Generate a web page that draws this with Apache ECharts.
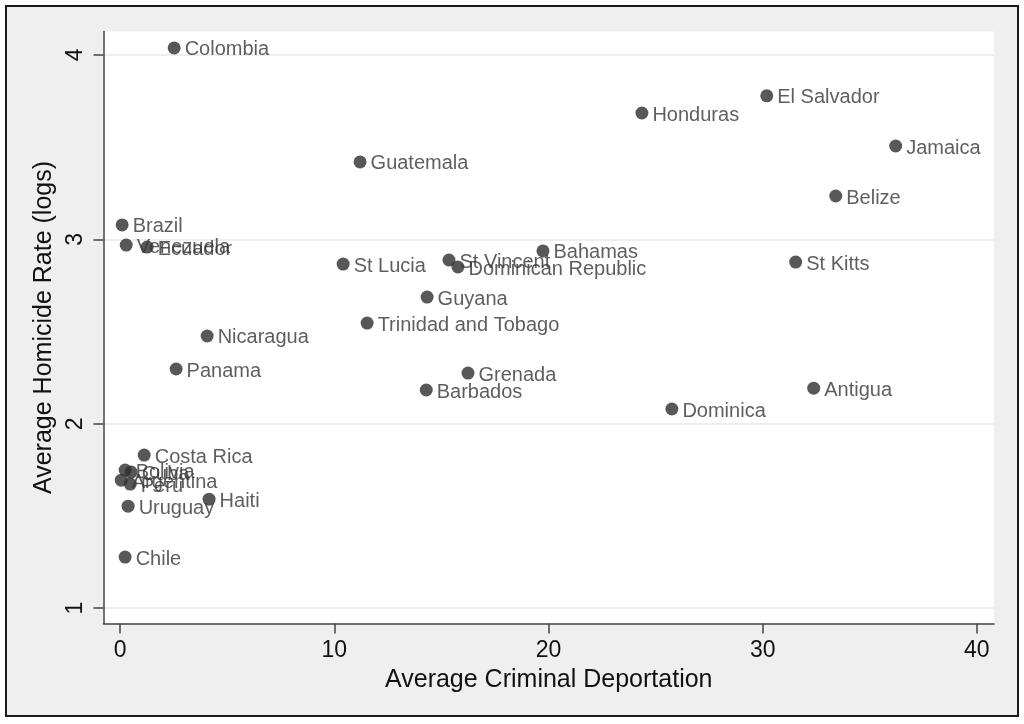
<!DOCTYPE html>
<html>
  <head>
    <meta http-equiv="Content-Type" content="text/html; charset=utf-8">
    <title>Homicide vs Deportation</title>
    <script src="https://cdn.jsdelivr.net/npm/echarts@6/dist/echarts.min.js"></script>
    <style>
      html, body { margin: 0; padding: 0; background: #fff; }
      #chart { width: 1024px; height: 724px; }
    </style>
  </head>
  <body>
    <div id="chart"></div>
    <script type="text/javascript">
      // countries and their values
      var countries = ["Colombia", "Honduras", "El Salvador", "Jamaica", "Guatemala", "Belize",
        "Brazil", "Venezuela", "Ecuador", "St Lucia", "St Vincent", "Dominican Republic",
        "Bahamas", "St Kitts", "Guyana", "Trinidad and Tobago", "Nicaragua", "Panama",
        "Grenada", "Barbados", "Antigua", "Dominica", "Costa Rica", "Bolivia", "Cuba",
        "Argentina", "Peru", "Uruguay", "Haiti", "Chile"];
      var deportation = [2.52, 24.36, 30.19, 36.21, 11.20, 33.41,
        0.09, 0.28, 1.26, 10.41, 15.35, 15.77,
        19.74, 31.54, 14.33, 11.53, 4.06, 2.61,
        16.24, 14.29, 32.38, 25.76, 1.12, 0.23, 0.51,
        0.05, 0.47, 0.37, 4.15, 0.23];
      var homicide = [4.038, 3.685, 3.778, 3.506, 3.420, 3.235,
        3.078, 2.969, 2.958, 2.866, 2.888, 2.850,
        2.937, 2.877, 2.687, 2.546, 2.476, 2.297,
        2.275, 2.183, 2.193, 2.080, 1.830, 1.749, 1.738,
        1.694, 1.673, 1.553, 1.591, 1.277];
      var xTicks = [0, 10, 20, 30, 40];
      var yTicks = [1, 2, 3, 4];

      var points = [];
      for (var i = 0; i < countries.length; i++) {
        points.push({ name: countries[i], value: [deportation[i], homicide[i]] });
      }

      var font = "'Liberation Sans', Arial, sans-serif";
      var myChart = echarts.init(document.getElementById('chart'));
      myChart.setOption({
        animation: false,
        backgroundColor: '#ffffff',
        graphic: [{
          type: 'rect',
          shape: { x: 6, y: 6, width: 1012, height: 710 },
          style: { fill: '#efefef', stroke: '#1a1a1a', lineWidth: 2 },
          z: -10
        }],
        grid: {
          left: 103.5, right: 30, top: 31.5, bottom: 100.5,
          show: true, backgroundColor: '#ffffff', borderWidth: 0
        },
        xAxis: {
          type: 'value',
          min: -0.78, max: 40.8,
          name: 'Average Criminal Deportation',
          nameLocation: 'middle',
          nameGap: 37,
          nameTextStyle: { fontFamily: font, fontSize: 25, color: '#111' },
          axisLine: { show: true, onZero: false, lineStyle: { color: '#444', width: 1.5 } },
          axisTick: { show: true, length: 10, lineStyle: { color: '#444', width: 1.5 },
            customValues: xTicks },
          axisLabel: { fontFamily: font, fontSize: 23, color: '#111', margin: 16,
            customValues: xTicks },
          splitLine: { show: false }
        },
        yAxis: {
          type: 'value',
          min: 0.917, max: 4.127,
          name: 'Average Homicide Rate (logs)',
          nameLocation: 'middle',
          nameRotate: 90,
          nameGap: 47,
          nameTextStyle: { fontFamily: font, fontSize: 25, color: '#111' },
          axisLine: { show: true, onZero: false, lineStyle: { color: '#444', width: 1.5 } },
          axisTick: { show: true, length: 10, lineStyle: { color: '#444', width: 1.5 },
            customValues: yTicks },
          axisLabel: { fontFamily: font, fontSize: 23, color: '#111', margin: 16, rotate: 90,
            customValues: yTicks },
          splitLine: { show: true, lineStyle: { color: '#e8e8e8', width: 1.5 } }
        },
        series: [{
          type: 'scatter',
          data: points,
          symbolSize: 13,
          itemStyle: { color: '#2e2e2e' },
          label: {
            show: true,
            position: 'right',
            distance: 4,
            offset: [0, 2],
            formatter: '{b}',
            fontFamily: font,
            fontSize: 20,
            color: '#363636'
          }
        }]
      });
    </script>
  </body>
</html>
